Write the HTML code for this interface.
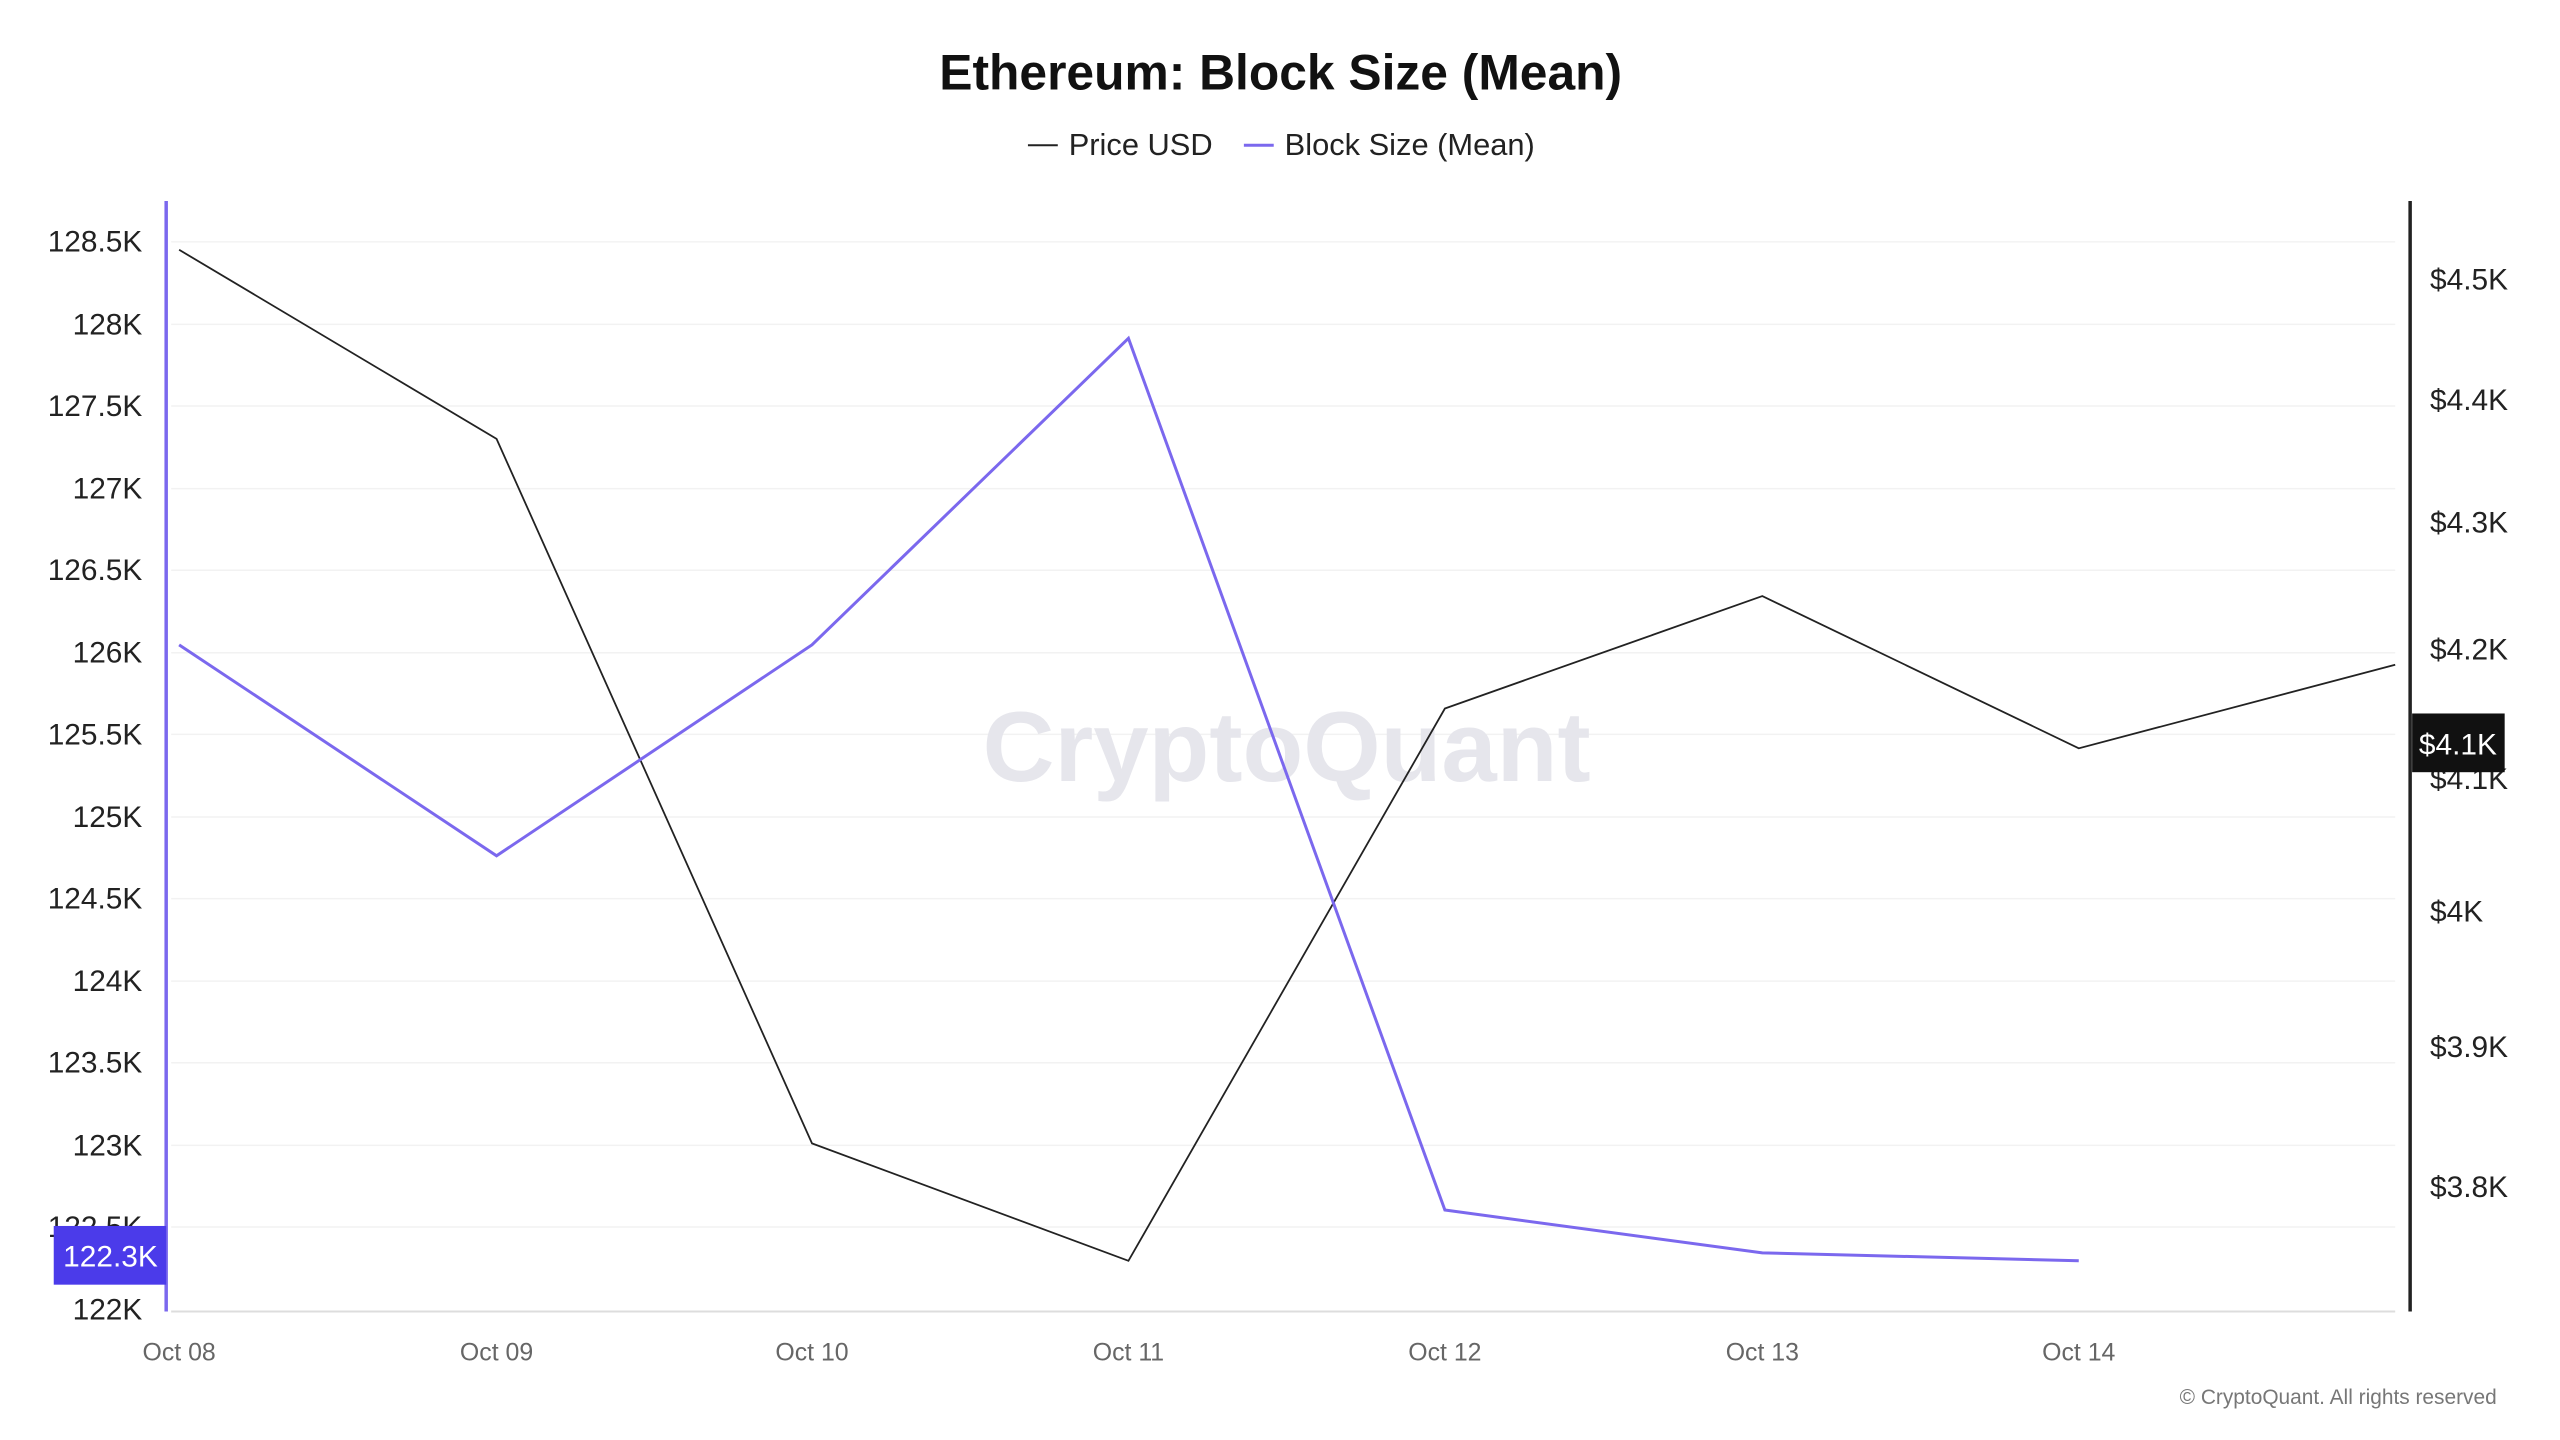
<!DOCTYPE html>
<html><head><meta charset="utf-8"><style>
html,body{margin:0;padding:0;background:#fff;width:2560px;height:1440px;overflow:hidden}
</style></head><body>
<svg width="2560" height="1440" xmlns="http://www.w3.org/2000/svg" font-family="Liberation Sans, sans-serif">
<rect width="2560" height="1440" fill="#fff"/>
<g transform="scale(0.9951)">
<text x="1287" y="90" font-size="50" font-weight="bold" text-anchor="middle" fill="#111">Ethereum: Block Size (Mean)</text>
<line x1="1033" y1="146" x2="1063" y2="146" stroke="#222" stroke-width="2"/>
<text x="1074" y="156" font-size="31" fill="#222">Price USD</text>
<line x1="1250" y1="146" x2="1280" y2="146" stroke="#7b68ee" stroke-width="3"/>
<text x="1291" y="156" font-size="31" fill="#222">Block Size (Mean)</text>
<g stroke="#f2f2f2" stroke-width="1.5">
<line x1="172" x2="2407" y1="243" y2="243"/><line x1="172" x2="2407" y1="326" y2="326"/>
<line x1="172" x2="2407" y1="408" y2="408"/><line x1="172" x2="2407" y1="491" y2="491"/>
<line x1="172" x2="2407" y1="573" y2="573"/><line x1="172" x2="2407" y1="656" y2="656"/>
<line x1="172" x2="2407" y1="738" y2="738"/><line x1="172" x2="2407" y1="821" y2="821"/>
<line x1="172" x2="2407" y1="903" y2="903"/><line x1="172" x2="2407" y1="986" y2="986"/>
<line x1="172" x2="2407" y1="1068" y2="1068"/><line x1="172" x2="2407" y1="1151" y2="1151"/>
<line x1="172" x2="2407" y1="1233" y2="1233"/>
</g>
<text x="1293" y="785" font-size="100" text-anchor="middle" fill="#e6e6ec" font-weight="bold">CryptoQuant</text>
<line x1="172" y1="1318" x2="2407" y2="1318" stroke="#ddd" stroke-width="2"/>
<g font-size="30" fill="#222" text-anchor="end">
<text x="143" y="253">128.5K</text><text x="143" y="336">128K</text><text x="143" y="418">127.5K</text>
<text x="143" y="501">127K</text><text x="143" y="583">126.5K</text><text x="143" y="666">126K</text>
<text x="143" y="748">125.5K</text><text x="143" y="831">125K</text><text x="143" y="913">124.5K</text>
<text x="143" y="996">124K</text><text x="143" y="1078">123.5K</text><text x="143" y="1161">123K</text>
<text x="143" y="1243">122.5K</text><text x="143" y="1326">122K</text>
</g>
<g font-size="30" fill="#222">
<text x="2442" y="291">$4.5K</text><text x="2442" y="412">$4.4K</text><text x="2442" y="535">$4.3K</text>
<text x="2442" y="663">$4.2K</text><text x="2442" y="793">$4.1K</text><text x="2442" y="926">$4K</text>
<text x="2442" y="1062">$3.9K</text><text x="2442" y="1203">$3.8K</text>
</g>
<g font-size="25" fill="#666" text-anchor="middle">
<text x="180" y="1367">Oct 08</text><text x="499" y="1367">Oct 09</text><text x="816" y="1367">Oct 10</text>
<text x="1134" y="1367">Oct 11</text><text x="1452" y="1367">Oct 12</text><text x="1771" y="1367">Oct 13</text>
<text x="2089" y="1367">Oct 14</text>
</g>
<polyline fill="none" stroke="#222" stroke-width="1.8" points="180,251 499,441 816,1149 1134,1267 1452,712 1771,599 2089,752 2407,668"/>
<polyline fill="none" stroke="#7b68ee" stroke-width="3" points="180,648 499,860 816,648 1134,340 1452,1216 1771,1259 2089,1267"/>
<line x1="167" y1="202" x2="167" y2="1318" stroke="#7b68ee" stroke-width="3.5"/>
<line x1="2422" y1="202" x2="2422" y2="1318" stroke="#222" stroke-width="3.5"/>
<rect x="54" y="1232" width="113" height="59" fill="#4b3bea"/>
<text x="111" y="1273" font-size="30" fill="#fff" text-anchor="middle">122.3K</text>
<rect x="2424" y="717" width="93" height="59" fill="#111"/>
<text x="2470" y="758" font-size="30" fill="#fff" text-anchor="middle">$4.1K</text>
<text x="2509" y="1411" font-size="21" fill="#777" text-anchor="end">© CryptoQuant. All rights reserved</text>
</g>
</svg>
</body></html>
